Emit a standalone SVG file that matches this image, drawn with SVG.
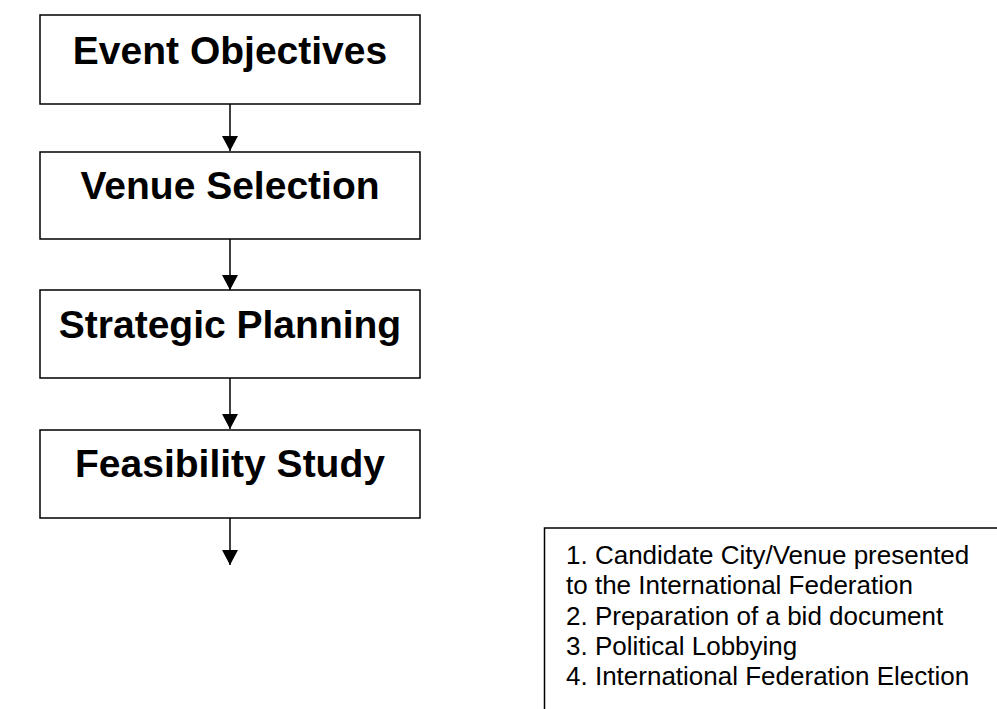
<svg xmlns="http://www.w3.org/2000/svg" width="997" height="709" viewBox="0 0 997 709">
<defs>
<style>
.box{fill:#fff;stroke:#000;stroke-width:1.5}
.t{font-family:"Liberation Sans",Arial,sans-serif;font-weight:bold;font-size:39px;fill:#000;text-anchor:middle}
.l{font-family:"Liberation Sans",Arial,sans-serif;font-size:26px;fill:#000}
.c{stroke:#000;stroke-width:1.5;fill:none}
</style>
<marker id="ah" viewBox="0 0 15 16" markerWidth="15" markerHeight="16" refX="15" refY="8" orient="auto" markerUnits="userSpaceOnUse">
<path d="M0,0 L15,8 L0,16 Z" fill="#000"/>
</marker>
</defs>
<rect width="997" height="709" fill="#fff"/>
<g id="connectors">
<line class="c" x1="230" y1="104" x2="230" y2="151" marker-end="url(#ah)"/>
<line class="c" x1="230" y1="239" x2="230" y2="290" marker-end="url(#ah)"/>
<line class="c" x1="230" y1="378" x2="230" y2="429" marker-end="url(#ah)"/>
<line class="c" x1="230" y1="518" x2="230" y2="565" marker-end="url(#ah)"/>
</g>
<g id="event-objectives">
<rect class="box" x="40" y="15" width="380" height="89"/>
<text class="t" x="230" y="64">Event Objectives</text>
</g>
<g id="venue-selection">
<rect class="box" x="40" y="152" width="380" height="87"/>
<text class="t" x="230" y="199">Venue Selection</text>
</g>
<g id="strategic-planning">
<rect class="box" x="40" y="290" width="380" height="88"/>
<text class="t" x="230" y="338">Strategic Planning</text>
</g>
<g id="feasibility-study">
<rect class="box" x="40" y="430" width="380" height="88"/>
<text class="t" x="230" y="477">Feasibility Study</text>
</g>
<g id="bid-process">
<path class="c" d="M544.5,712 V528 H1000"/>
<text class="l" x="566" y="564">1. Candidate City/Venue presented</text>
<text class="l" x="566" y="594">to the International Federation</text>
<text class="l" x="566" y="625">2. Preparation of a bid document</text>
<text class="l" x="566" y="655">3. Political Lobbying</text>
<text class="l" x="566" y="685">4. International Federation Election</text>
</g>
</svg>
